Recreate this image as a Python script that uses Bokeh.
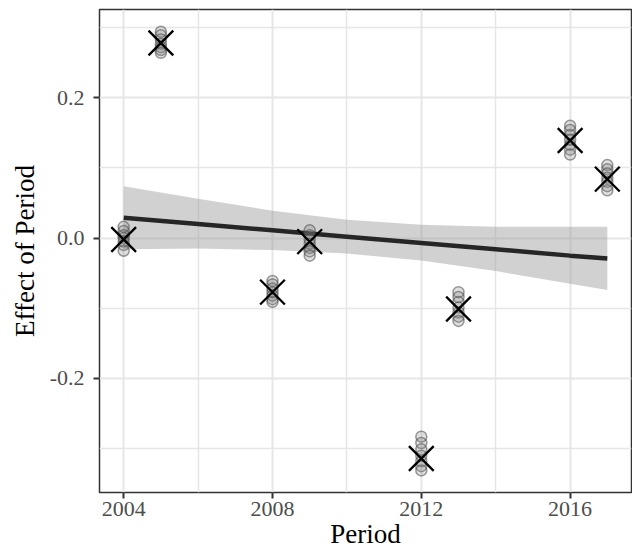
from bokeh.plotting import figure
from bokeh.models import Range1d, FixedTicker, NumeralTickFormatter, ColumnDataSource
from bokeh.embed import file_html
from bokeh.resources import INLINE

# ---- data ----
periods = [2004, 2005, 2008, 2009, 2012, 2013, 2016, 2017]
period_means = [-0.002, 0.278, -0.077, -0.005, -0.314, -0.101, 0.139, 0.084]

draws_2004 = [0.016, 0.010, 0.004, 0.000, -0.005, -0.010, -0.018]
draws_2005 = [0.294, 0.289, 0.283, 0.277, 0.272, 0.268, 0.264]
draws_2008 = [-0.061, -0.066, -0.072, -0.077, -0.082, -0.087, -0.091]
draws_2009 = [0.011, 0.004, -0.002, -0.008, -0.014, -0.019, -0.025]
draws_2012 = [-0.283, -0.292, -0.301, -0.310, -0.318, -0.325, -0.331]
draws_2013 = [-0.077, -0.084, -0.091, -0.099, -0.106, -0.112, -0.118]
draws_2016 = [0.160, 0.154, 0.147, 0.140, 0.133, 0.126, 0.119]
draws_2017 = [0.104, 0.098, 0.092, 0.086, 0.080, 0.074, 0.068]
draws = [draws_2004, draws_2005, draws_2008, draws_2009,
         draws_2012, draws_2013, draws_2016, draws_2017]

fit_x = [2004, 2006, 2008, 2010, 2012, 2014, 2016, 2017]
fit_y = [0.029, 0.020, 0.011, 0.002, -0.007, -0.016, -0.025, -0.029]
fit_upper = [0.074, 0.056, 0.039, 0.026, 0.019, 0.016, 0.016, 0.016]
fit_lower = [-0.016, -0.015, -0.017, -0.022, -0.032, -0.047, -0.065, -0.074]

x_ticks = [2004, 2008, 2012, 2016]
x_minor = [2006, 2010, 2014]
y_ticks = [-0.2, 0.0, 0.2]
y_minor = [-0.3, -0.1, 0.1, 0.3]

# ---- build ----
pt_x, pt_y = [], []
for per, vals in zip(periods, draws):
    for v in vals:
        pt_x.append(per)
        pt_y.append(v)

p = figure(width=632, height=551, output_backend="svg", toolbar_location=None,
           x_range=Range1d(2003.35, 2017.65), y_range=Range1d(-0.3625, 0.3257),
           min_border_top=9, min_border_right=1, min_border_left=99, min_border_bottom=0)

p.background_fill_color = "white"
p.border_fill_color = "white"
p.outline_line_color = "#333333"
p.outline_line_width = 1.5

serif = "Liberation Serif"
for ax in (p.xaxis[0], p.yaxis[0]):
    ax.axis_line_color = None
    ax.major_tick_line_color = "#333333"
    ax.major_tick_line_width = 2
    ax.major_tick_out = 6
    ax.major_tick_in = 0
    ax.minor_tick_line_color = None
    ax.major_label_text_font = serif
    ax.major_label_text_font_size = "22px"
    ax.major_label_text_color = "#4d4d4d"
    ax.axis_label_text_font = serif
    ax.axis_label_text_font_size = "27px"
    ax.axis_label_text_font_style = "normal"
    ax.axis_label_text_color = "black"

p.xaxis.ticker = FixedTicker(ticks=x_ticks, minor_ticks=x_minor)
p.yaxis.ticker = FixedTicker(ticks=y_ticks, minor_ticks=y_minor)
p.yaxis.formatter = NumeralTickFormatter(format="0.0")
p.xaxis.axis_label = "Period"
p.yaxis.axis_label = "Effect of Period"
p.xaxis.major_label_standoff = 3
p.xaxis.axis_label_standoff = 0
p.yaxis.major_label_standoff = 9
p.yaxis.axis_label_standoff = 7

for g in (p.xgrid[0], p.ygrid[0]):
    g.grid_line_color = "#e6e6e6"
    g.grid_line_width = 2
    g.minor_grid_line_color = "#e6e6e6"
    g.minor_grid_line_width = 1.5

band = ColumnDataSource(dict(x=fit_x, lo=fit_lower, hi=fit_upper, y=fit_y))
p.varea(x="x", y1="lo", y2="hi", source=band, fill_color="#999999", fill_alpha=0.45)
p.line(x="x", y="y", source=band, line_color="#262626", line_width=4.5)

p.scatter(pt_x, pt_y, marker="circle", size=11, line_color="#4d4d4d", line_alpha=0.55,
          line_width=1.5, fill_color="#808080", fill_alpha=0.25)
p.scatter(periods, period_means, marker="x", size=35, line_color="black", line_width=2.3)

open("out.html", "w").write(file_html(p, INLINE))
